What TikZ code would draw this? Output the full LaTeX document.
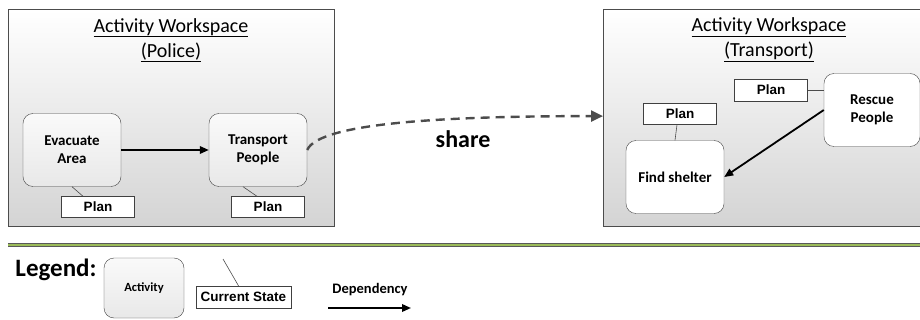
\documentclass[tikz,border=0pt]{standalone}
\usepackage{fontspec}
\setmainfont{Carlito}
\newfontfamily\arialfont{Liberation Sans}
\usetikzlibrary{arrows.meta, positioning}
\definecolor{sepgreen}{RGB}{155,187,89}

\begin{document}
\begin{tikzpicture}[
    x=1pt, y=-1pt,
    workspace/.style={draw=black!70, line width=1.2pt, top color=white, bottom color=black!17,
        minimum height=217pt, anchor=north west, inner sep=0pt},
    wstitle/.style={font=\fontsize{20}{25}\selectfont, align=center},
    activity/.style={draw=black!75, rounded corners=10pt, minimum width=98pt, minimum height=73pt,
        align=center, font=\fontsize{15}{18}\selectfont\bfseries, top color=black!2, bottom color=black!9},
    state/.style={draw=black!75, fill=white, minimum width=73pt, minimum height=21pt, inner sep=0pt,
        font=\arialfont\fontsize{13.5}{15}\selectfont\bfseries},
    dep/.style={-{Triangle[length=9pt,width=7.5pt]}, line width=1.8pt},
    link/.style={draw=black!70, line width=0.6pt}
]
\useasboundingbox (0,0) rectangle (920,320);

% workspaces
\node[workspace, minimum width=326pt] (wsP) at (8,9) {};
\node[workspace, minimum width=335pt] (wsT) at (603,9) {};
\node[wstitle] (titleP) at (171,40) {\underline{Activity Workspace}\\\underline{(Police)}};
\node[wstitle] (titleT) at (769,40) {\underline{Activity Workspace}\\\underline{(Transport)}};

% police side
\node[activity] (evac) at (72,150) {Evacuate\\Area};
\node[activity] (transport) at (258,150) {Transport\\People};
\node[state] (planE) at (98,207) {Plan};
\node[state] (planTr) at (268,207) {Plan};
\draw[link] (evac.south) -- ([xshift=-15pt]planE.north);
\draw[link] ([xshift=-15pt]transport.south) -- ([xshift=-11pt]planTr.north);
\draw[dep] (evac.east) -- (transport.east -| transport.west);

% transport side
\node[activity, fill=white, top color=white, bottom color=white, minimum width=96pt] (rescue) at (872,110) {Rescue\\People};
\node[activity, fill=white, top color=white, bottom color=white] (shelter) at (675,177) {Find shelter};
\node[state, minimum height=22pt] (planR) at (771,90) {Plan};
\node[state] (planS) at (680,114) {Plan};
\draw[link] (planR.east) -- (planR.east -| rescue.west);
\draw[link] ([xshift=-3pt]planS.south) -- (shelter.north);
\draw[dep] (rescue.west) -- (shelter.east);

% share
\draw[draw=black!70, line width=2.4pt, dash pattern=on 9pt off 6pt,
    -{Triangle[length=12pt,width=11pt]}]
    (transport.east) .. controls +(12,-28) and +(-150,0) .. ([yshift=2pt]wsT.west);
\node[font=\fontsize{24}{28}\selectfont\bfseries] (share) at (463,139) {share};

% separator
\draw[black!65, line width=4.5pt] (8,245) -- (920,245);
\draw[sepgreen, line width=2pt] (8,245) -- (920,245);

% legend
\node[font=\fontsize{25}{30}\selectfont\bfseries] (legend) at (56,270) {Legend:};
\node[activity, minimum width=80pt, minimum height=60pt, font=\fontsize{12.5}{15}\selectfont\bfseries] (legAct) at (144,288) {Activity};
\node[state, minimum width=95pt, minimum height=22pt] (legState) at (243.5,297) {Current State};
\coordinate (legTip) at (223,259);
\draw[link] (legTip) -- ([xshift=-5pt]legState.north);
\node[font=\fontsize{14.5}{17}\selectfont\bfseries] (legDep) at (370,290) {Dependency};
\coordinate (depA) at (328,308);
\coordinate (depB) at (411,308);
\draw[dep] (depA) -- (depB);
\end{tikzpicture}
\end{document}
